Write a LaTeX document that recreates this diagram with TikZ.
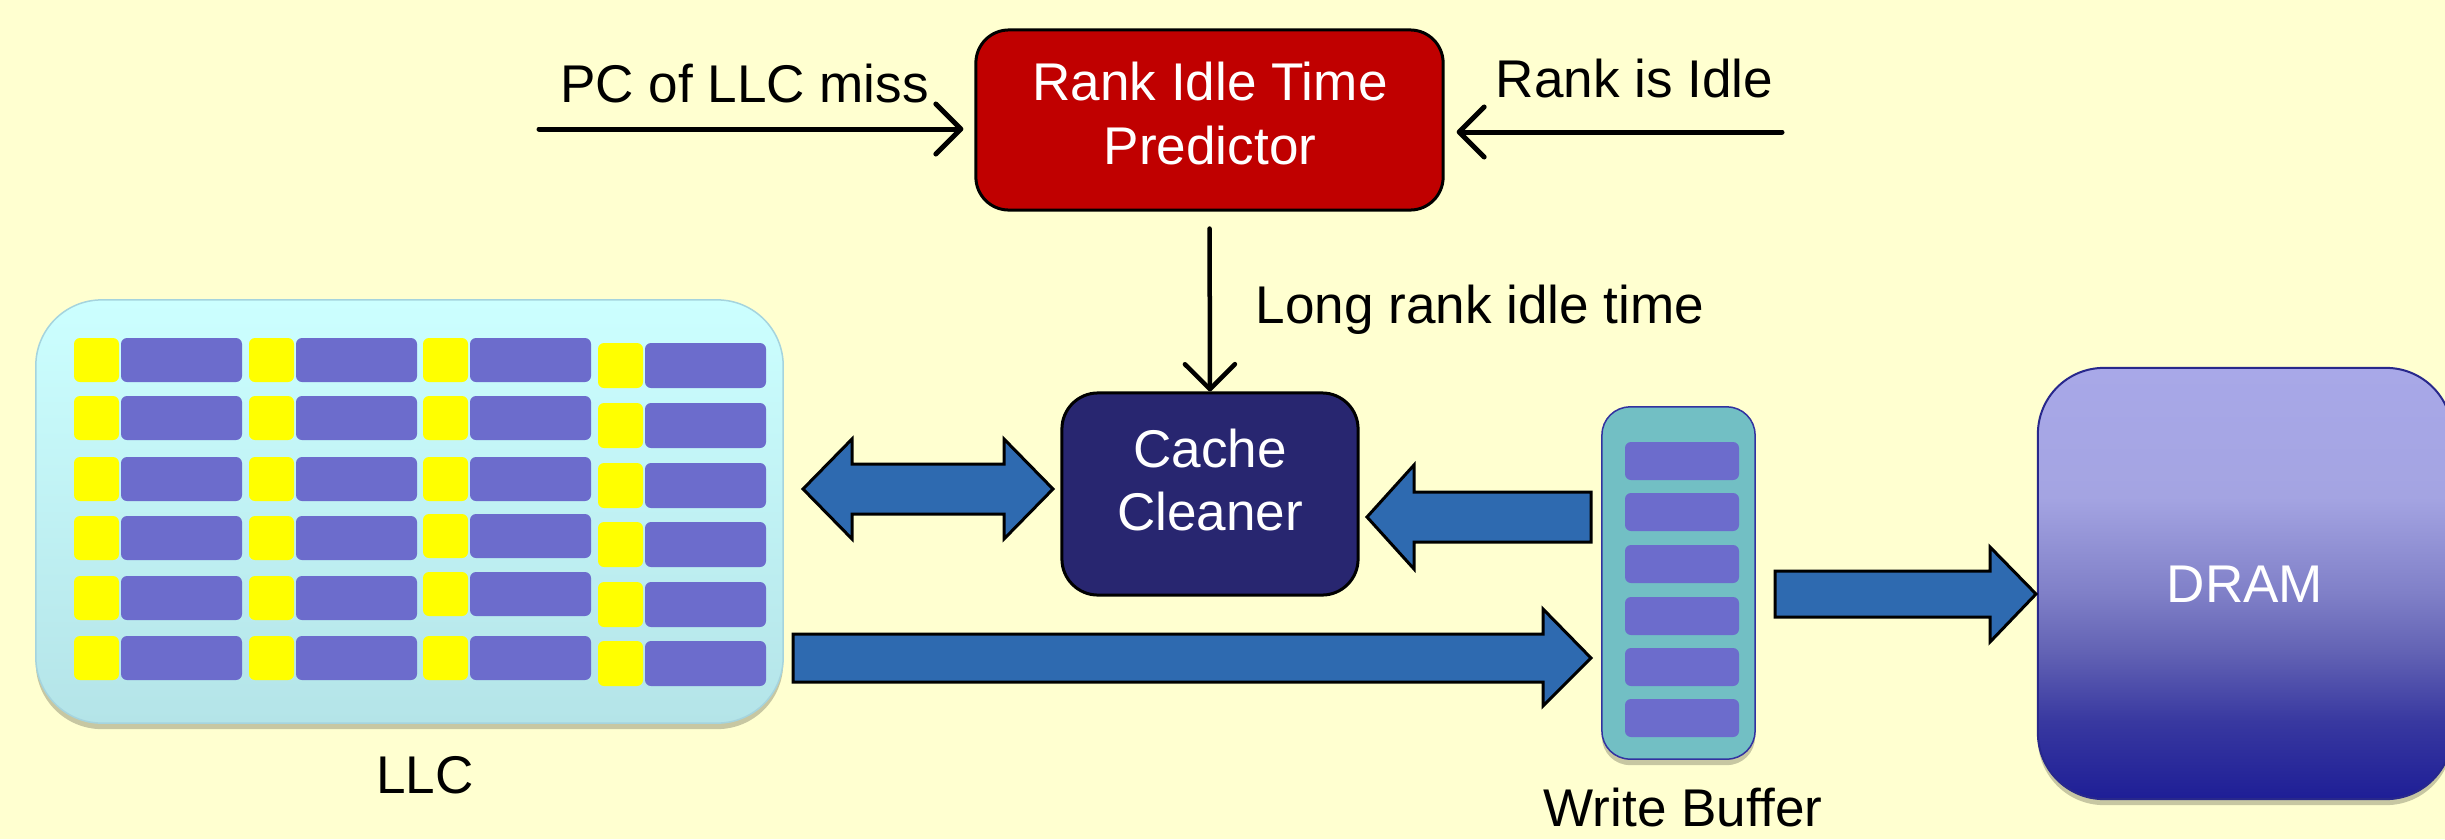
\documentclass[tikz,border=0pt]{standalone}
\usepackage{fontspec}
\setmainfont{Liberation Sans}
\usetikzlibrary{arrows.meta,shadows}
\definecolor{bg}{RGB}{255,255,208}
\definecolor{predred}{RGB}{192,0,0}
\definecolor{ccnavy}{RGB}{40,38,112}
\definecolor{blockblue}{RGB}{46,106,176}
\definecolor{slotpurple}{RGB}{108,108,204}
\definecolor{cellyellow}{RGB}{255,255,0}
\definecolor{wbteal}{RGB}{114,191,196}
\definecolor{wbborder}{RGB}{50,50,160}
\definecolor{llctop}{RGB}{204,255,255}
\definecolor{llcbot}{RGB}{180,228,232}
\definecolor{llcborder}{RGB}{165,212,222}
\definecolor{dramA}{RGB}{168,168,232}
\definecolor{dramB}{RGB}{164,164,226}
\definecolor{dramC}{RGB}{128,128,200}
\definecolor{dramD}{RGB}{98,98,180}
\definecolor{dramE}{RGB}{56,56,160}
\definecolor{dramF}{RGB}{30,30,150}
\definecolor{dramborder}{RGB}{40,40,140}
\pgfdeclareverticalshading{dramshade}{100bp}{color(0bp)=(dramF); color(25bp)=(dramF); color(34bp)=(dramE); color(42bp)=(dramD); color(49bp)=(dramC); color(60bp)=(dramB); color(75bp)=(dramA); color(100bp)=(dramA)}
\tikzset{
  lbl/.style={inner sep=0pt, anchor=base, text=black},
  wlbl/.style={inner sep=0pt, anchor=base, text=white},
  thinarrow/.style={line width=0.05cm, line cap=round, -{Straight Barb[length=0.25cm,width=0.5cm,line cap=round,round]}},
  blockarrow/.style={fill=blockblue, draw=black, line width=0.03cm, line join=miter},
  cellyel/.style={fill=cellyellow, rounded corners=0.06cm},
  cellpur/.style={fill=slotpurple, rounded corners=0.06cm},
  softshadow/.style={drop shadow={shadow xshift=0cm, shadow yshift=-0.06cm, fill=black, opacity=0.22}}
}
\begin{document}
\begin{tikzpicture}[x=0.01cm, y=-0.01cm, font=\fontsize{15.1pt}{18.2pt}\selectfont]
\fill[bg] (0,0) rectangle (2445,839);
\useasboundingbox (0,0) rectangle (2445,839);

% Rank Idle Time Predictor
\node[draw=black, fill=predred, line width=0.03cm, rounded corners=0.33cm,
      minimum width=4.67cm, minimum height=1.8cm, inner sep=0pt] (pred) at (1209.5,120) {};
\node[wlbl] (predl1) at (1210,100) {Rank Idle Time};
\node[wlbl] (predl2) at (1210,164) {Predictor};

% input labels and arrows
\node[lbl] (pclbl) at (744.5,102) {PC of LLC miss};
\coordinate (pcstart) at (539,129);
\draw[thinarrow, shorten >=0.11cm] (pcstart) -- (pcstart -| pred.west);
\node[lbl] (idlelbl) at (1634.5,97) {Rank is Idle};
\coordinate (idlestart) at (1782,132);
\draw[thinarrow, shorten >=0.12cm] (idlestart) -- (idlestart -| pred.east);

% Cache Cleaner
\node[draw=black, fill=ccnavy, line width=0.03cm, rounded corners=0.36cm,
      minimum width=2.96cm, minimum height=2.02cm, inner sep=0pt] (cc) at (1210,494) {};
\node[wlbl] (ccl1) at (1210,467) {Cache};
\node[wlbl] (ccl2) at (1210,530) {Cleaner};

\draw[thinarrow, line width=0.045cm, shorten <=0.17cm] (pred.south) -- (cc.north);
\node[lbl, anchor=base west] (longlbl) at (1255,323) {Long rank idle time};

% LLC
\node[softshadow, draw=llcborder, line width=0.015cm, top color=llctop, bottom color=llcbot,
      rounded corners=0.66cm, minimum width=7.47cm, minimum height=4.23cm, inner sep=0pt] (llc) at (409.5,511.5) {};
\node[lbl] (llclbl) at (425,793) {LLC};
\foreach \yx/\px/\tops/\h in {74/121/{338,396,457,516,576,636}/44, 249/296/{338,396,457,516,576,636}/44, 423/470/{338,396,457,514,572,636}/44, 598/645/{343,403,463,522,582,641}/45}{
  \foreach \t in \tops {
    \fill[cellyel] (\yx,\t) rectangle ++(45,\h);
    \fill[cellpur] (\px,\t) rectangle ++(121,\h);
  }
}

% Write Buffer
\node[softshadow, draw=wbborder, line width=0.015cm, fill=wbteal, rounded corners=0.28cm,
      minimum width=1.53cm, minimum height=3.52cm, inner sep=0pt] (wb) at (1678.5,583) {};
\foreach \t in {442,493,545,597,648,699}{
  \fill[cellpur] (1625,\t) rectangle ++(114,38);
}
\node[lbl] (wblbl) at (1683,826) {Write Buffer};

% DRAM
\node[softshadow, draw=dramborder, line width=0.02cm, shading=dramshade, rounded corners=0.66cm,
      minimum width=4.14cm, minimum height=4.31cm, inner sep=0pt] (dram) at (2245,583.5) {};
\node[wlbl] (dramlbl) at (2245,602) {DRAM};

% block arrows
\draw[blockarrow] (803,489) -- (852,439) -- (852,464) -- (1004,464) -- (1004,439) -- (1053,489)
   -- (1004,539) -- (1004,514) -- (852,514) -- (852,539) -- cycle;
\draw[blockarrow] (1367,517) -- (1414,465) -- (1414,492) -- (1591,492) -- (1591,542)
   -- (1414,542) -- (1414,569) -- cycle;
\draw[blockarrow] (793,634) -- (1543,634) -- (1543,609) -- (1591,658) -- (1543,706)
   -- (1543,682) -- (793,682) -- cycle;
\draw[blockarrow] (1775,571) -- (1990,571) -- (1990,547) -- (2036,594) -- (1990,642)
   -- (1990,617) -- (1775,617) -- cycle;
\end{tikzpicture}
\end{document}
